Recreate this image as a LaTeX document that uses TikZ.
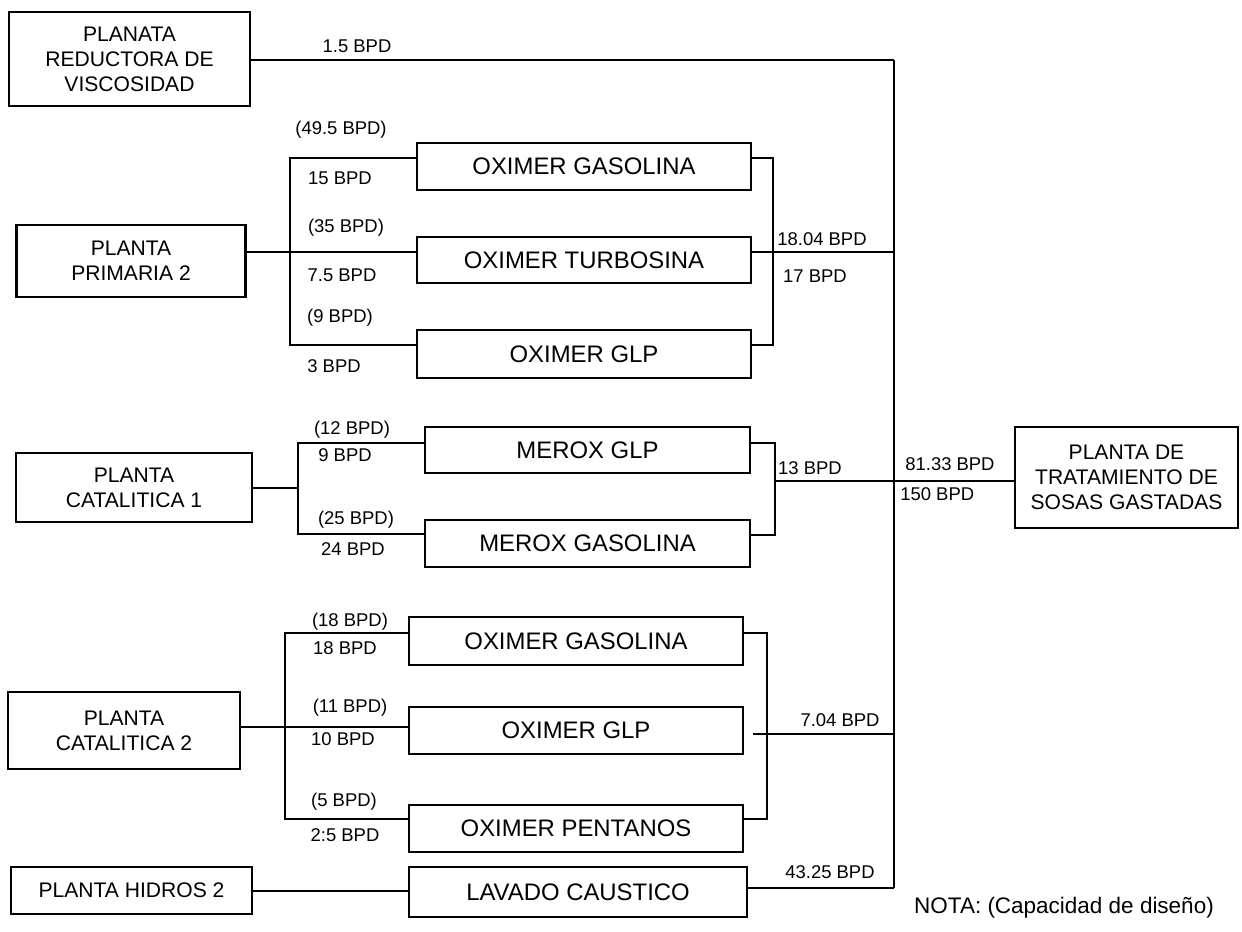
\documentclass[tikz,border=0pt]{standalone}
\usepackage{fontspec}
\setmainfont{Liberation Sans}
\begin{document}
\begin{tikzpicture}[x=0.02cm,y=-0.02cm,
 box/.style={draw, line width=1.2pt, inner sep=0pt, align=center, font=\fontsize{13.6}{15}\selectfont},
 bigbox/.style={draw, line width=1.2pt, inner sep=0pt, align=center, font=\fontsize{12}{14.3}\selectfont},
 lbl/.style={inner sep=0pt, font=\fontsize{10.5}{12}\selectfont},
 pipe/.style={line width=1.1pt},
 mainpipe/.style={line width=1.7pt}]
\useasboundingbox (0,0) rectangle (1242,931);

% main boxes
\node[bigbox, minimum width=4.82cm, minimum height=1.88cm] (ra) at (129.5,59) {PLANATA\\REDUCTORA DE\\VISCOSIDAD};
\node[bigbox, minimum width=4.58cm, minimum height=1.44cm] (pp) at (131,261) {PLANTA\\PRIMARIA 2};
\node[bigbox, minimum width=4.72cm, minimum height=1.38cm] (c1) at (134,487.5) {PLANTA\\CATALITICA 1};
\node[bigbox, minimum width=4.64cm, minimum height=1.54cm] (c2) at (124,730.5) {PLANTA\\CATALITICA 2};
\node[bigbox, minimum width=4.82cm, minimum height=0.94cm] (hi) at (131.5,890.5) {PLANTA HIDROS 2};
\node[bigbox, minimum width=4.46cm, minimum height=2.02cm] (tr) at (1126.5,477.5) {PLANTA DE\\TRATAMIENTO DE\\SOSAS GASTADAS};

% process boxes
\node[box, minimum width=6.68cm, minimum height=0.94cm] (og1) at (584,166.5) {OXIMER GASOLINA};
\node[box, minimum width=6.68cm, minimum height=0.92cm] (ot) at (584,260) {OXIMER TURBOSINA};
\node[box, minimum width=6.68cm, minimum height=0.96cm] (og3) at (584,354) {OXIMER GLP};
\node[box, minimum width=6.5cm, minimum height=0.92cm] (mg) at (587.5,450) {MEROX GLP};
\node[box, minimum width=6.5cm, minimum height=0.94cm] (mgas) at (587.5,543.5) {MEROX GASOLINA};
\node[box, minimum width=6.68cm, minimum height=0.96cm] (og2a) at (576,641) {OXIMER GASOLINA};
\node[box, minimum width=6.68cm, minimum height=0.94cm] (og2b) at (576,730.5) {OXIMER GLP};
\node[box, minimum width=6.68cm, minimum height=0.94cm] (op) at (576,828.5) {OXIMER PENTANOS};
\node[box, minimum width=6.76cm, minimum height=1.0cm] (lc) at (578,892) {LAVADO CAUSTICO};

% junction coordinates
\coordinate (mt) at (894,60);
\coordinate (mb) at (894,888);
\coordinate (p1) at (290,158);
\coordinate (pj) at (290,252);
\coordinate (p3) at (290,345);
\coordinate (q1) at (773,158);
\coordinate (q3) at (773,345);
\coordinate (c1j) at (298,488);
\coordinate (m1) at (298,443);
\coordinate (m2) at (298,534);
\coordinate (n1) at (775,443);
\coordinate (n2) at (775,535);
\coordinate (nj) at (775,481);
\coordinate (r1) at (285,633);
\coordinate (rj) at (285,727);
\coordinate (r3) at (285,819);
\coordinate (s1) at (767,633);
\coordinate (s3) at (767,819);
\coordinate (sj) at (767,734);
\coordinate (hj) at (300,891);

% main collector
\draw[mainpipe] (mt) -- (mb);
\draw[pipe] (ra.east |- mt) -- (mt);
\draw[pipe] (lc.east |- mb) -- (mb);

% primaria 2
\draw[pipe] (pp.east |- pj) -- (ot.west |- pj);
\draw[pipe] (og1.west |- p1) -- (p1) -- (p3) -- (og3.west |- p3);
\draw[pipe] (og1.east |- q1) -- (q1) -- (q3) -- (og3.east |- q3);
\draw[pipe] (ot.east |- pj) -- (mt |- pj);

% catalitica 1
\draw[pipe] (c1.east |- c1j) -- (c1j);
\draw[pipe] (mg.west |- m1) -- (m1) -- (m2) -- (mgas.west |- m2);
\draw[pipe] (mg.east |- n1) -- (n1) -- (n2) -- (mgas.east |- n2);
\draw[pipe] (nj) -- (tr.west |- nj);

% catalitica 2
\draw[pipe] (c2.east |- rj) -- (og2b.west |- rj);
\draw[pipe] (og2a.west |- r1) -- (r1) -- (r3) -- (op.west |- r3);
\draw[pipe] (og2a.east |- s1) -- (s1) -- (s3) -- (op.east |- s3);
\draw[pipe] ([xshift=0.18cm]og2b.east |- sj) -- (mt |- sj);

% hidros
\draw[pipe] (hi.east |- hj) -- (lc.west |- hj);

% labels
\node[lbl] (l1) at (357,46) {1.5 BPD};
\node[lbl] (l2) at (341,130) {(49.5 BPD)};
\node[lbl] (l3) at (340,178) {15 BPD};
\node[lbl] (l4) at (346,228) {(35 BPD)};
\node[lbl] (l5) at (342,275) {7.5 BPD};
\node[lbl] (l6) at (340,318) {(9 BPD)};
\node[lbl] (l7) at (334,366) {3 BPD};
\node[lbl] (l8) at (822,239) {18.04 BPD};
\node[lbl] (l9) at (815,276) {17 BPD};
\node[lbl] (l10) at (352,430) {(12 BPD)};
\node[lbl] (l11) at (345,455) {9 BPD};
\node[lbl] (l12) at (356,520) {(25 BPD)};
\node[lbl] (l13) at (353,549) {24 BPD};
\node[lbl] (l14) at (810,468) {13 BPD};
\node[lbl, anchor=west] (l15) at (905,464) {81.33 BPD};
\node[lbl, anchor=west] (l16) at (900,494) {150 BPD};
\node[lbl] (l17) at (350,622) {(18 BPD)};
\node[lbl] (l18) at (345,648) {18 BPD};
\node[lbl] (l19) at (350,708) {(11 BPD)};
\node[lbl] (l20) at (343,739) {10 BPD};
\node[lbl] (l21) at (344,802) {(5 BPD)};
\node[lbl] (l22) at (345,835) {2:5 BPD};
\node[lbl] (l23) at (840,720) {7.04 BPD};
\node[lbl] (l24) at (830,872) {43.25 BPD};
\node[inner sep=0pt, font=\fontsize{12.8}{14}\selectfont] (nota) at (1064,908) {NOTA: (Capacidad de diseño)};
\end{tikzpicture}
\end{document}
